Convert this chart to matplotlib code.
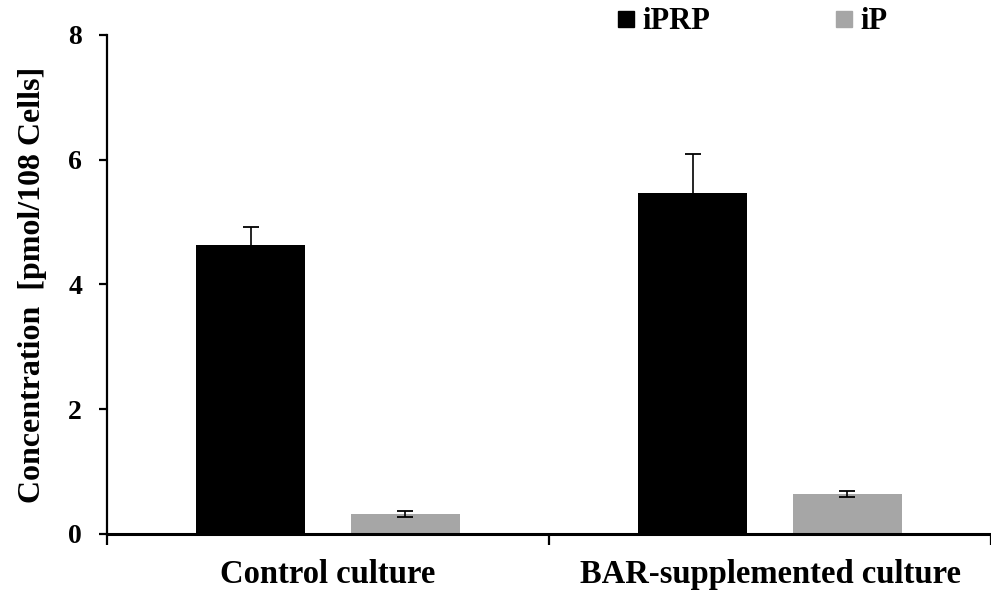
import matplotlib

matplotlib.use("Agg")
import matplotlib.pyplot as plt
import numpy as np
from matplotlib.lines import Line2D

# values
groups = ["Control culture", "BAR-supplemented culture"]
series = ["iPRP", "iP"]
iprp_mean = [4.64, 5.46]
iprp_err = [0.28, 0.63]
ip_mean = [0.32, 0.64]
ip_err = [0.05, 0.045]

colors = {"iPRP": "#000000", "iP": "#a6a6a6"}

plt.rcParams.update(
    {
        "font.family": "serif",
        "font.serif": ["Liberation Serif", "DejaVu Serif"],
        "font.weight": "bold",
        "axes.labelweight": "bold",
    }
)

fig = plt.figure(figsize=(9.91, 5.92), dpi=100)
ax = fig.add_axes([0.108, 0.098, 0.892, 0.843])

x = np.arange(len(groups))
width = 0.247
offset = 0.175
err_kw = dict(ecolor="black", elinewidth=1.2, capsize=5.5, capthick=1.3)

ax.bar(x - offset, iprp_mean, width, yerr=iprp_err, color=colors["iPRP"], error_kw=err_kw, zorder=2)
ax.bar(x + offset, ip_mean, width, yerr=ip_err, color=colors["iP"], error_kw=err_kw, zorder=2)

ax.set_xlim(-0.5, 1.487)
ax.set_ylim(0, 8)
ax.set_yticks([0, 2, 4, 6, 8])
ax.tick_params(axis="y", labelsize=20, length=6, width=1.6, pad=12)

# group boundaries as major ticks, group names as minor tick labels
ax.set_xticks([-0.5, 0.5, 1.5])
ax.set_xticklabels(["", "", ""])
ax.tick_params(axis="x", which="major", length=8, width=1.6, direction="out")
ax.set_xticks(x, minor=True)
ax.set_xticklabels(groups, minor=True, fontsize=23.5, fontweight="bold")
ax.tick_params(axis="x", which="minor", length=0, pad=18)

ax.spines[["top", "right"]].set_visible(False)
ax.spines["left"].set_linewidth(1.6)
ax.spines["bottom"].set_linewidth(2.2)

ax.set_ylabel("Concentration  [pmol/108 Cells]", fontsize=23, fontweight="bold", labelpad=15)

handles = [
    Line2D([], [], marker="s", color=colors[s], linestyle="none", markersize=11.5) for s in series
]
fig.legend(
    handles,
    series,
    loc="center left",
    bbox_to_anchor=(0.607, 0.963),
    ncol=2,
    frameon=False,
    fontsize=22,
    handlelength=0.6,
    handletextpad=0.25,
    columnspacing=4.05,
    borderpad=0,
)

fig.savefig("out.png", dpi=100)
